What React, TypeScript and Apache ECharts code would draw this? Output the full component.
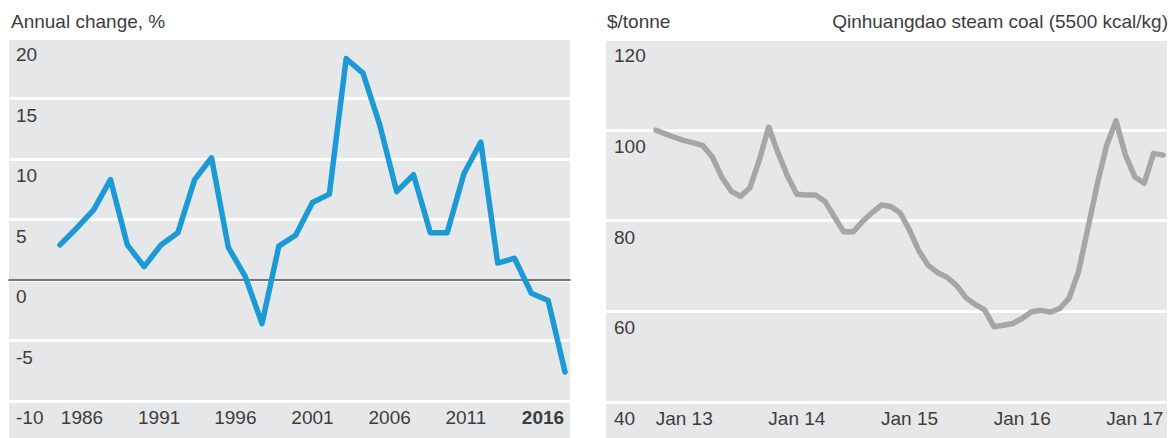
import React, { useEffect, useRef } from "react";
import * as echarts from "echarts";

// ---- Left chart: annual change, % ----
const growthYears: string[] = [];
for (let y = 1986; y <= 2016; y++) growthYears.push(String(y));
const growthValues = [
  2.9, 4.3, 5.8, 8.3, 2.9, 1.1, 2.9, 3.9, 8.3, 10.1,
  2.7, 0.3, -3.6, 2.8, 3.7, 6.4, 7.1, 18.3, 17.1, 12.8,
  7.3, 8.7, 3.9, 3.9, 8.8, 11.4, 1.4, 1.8, -1.1, -1.7,
  -7.6,
];
const growthMin = -10;
const growthMax = 20;
const growthStep = 5;

// ---- Right chart: Qinhuangdao steam coal, $/tonne ----
const monthNames = ["Jan", "Feb", "Mar", "Apr", "May", "Jun", "Jul", "Aug", "Sep", "Oct", "Nov", "Dec"];
const priceMonths: string[] = [];
{
  let m = 9, yr = 12; // Oct 12
  for (let i = 0; i < 55; i++) {
    priceMonths.push(`${monthNames[m]} ${yr}`);
    m++;
    if (m === 12) { m = 0; yr++; }
  }
}
const priceValues = [
  99.9, 99.1, 98.3, 97.6, 97.1, 96.5, 94.0, 89.6, 86.5, 85.3,
  87.2, 93.3, 100.6, 94.9, 89.8, 85.8, 85.6, 85.6, 84.2, 80.8,
  77.5, 77.5, 79.8, 81.7, 83.4, 83.1, 81.7, 77.9, 73.3, 70.1,
  68.5, 67.5, 65.7, 63.0, 61.5, 60.3, 56.6, 56.9, 57.3, 58.4,
  59.9, 60.2, 59.8, 60.6, 62.9, 68.7, 78.3, 88.0, 96.6, 102.0,
  94.4, 89.6, 88.2, 94.8, 94.4,
];
const priceMin = 40;
const priceMax = 120;
const priceStep = 20;

const FONT = "'Liberation Sans', Arial, sans-serif";
const TEXT = "#3d3d3d";
const PANEL = "#e6e7e8";
const FS = 19;

// horizontal nudges of the left x labels (reference places them on their own spacing)
const leftLabelShift = [22, 15, 7, 0, -7, -15, -22];
const leftRich: Record<string, any> = {};
leftLabelShift.forEach((d, k) => {
  leftRich["o" + k] = {
    fontSize: FS,
    lineHeight: FS,
    color: TEXT,
    fontFamily: FONT,
    fontWeight: k === leftLabelShift.length - 1 ? "bold" : "normal",
    padding: d >= 0 ? [0, 0, 0, 2 * d] : [0, -2 * d, 0, 0],
  };
});

function frameY(min: number, max: number, step: number, margin: number, gridIndex: number) {
  return {
    type: "value",
    gridIndex,
    min,
    max,
    interval: step,
    axisLine: { show: false },
    axisTick: { show: false },
    splitLine: { show: true, lineStyle: { color: "#ffffff", width: 3 } },
    axisLabel: {
      inside: true,
      margin,
      align: "left",
      verticalAlign: "top",
      padding: [7, 0, 0, 0],
      fontSize: FS,
      lineHeight: FS,
      color: TEXT,
      fontFamily: FONT,
    },
  };
}

const option: any = {
  animation: false,
  backgroundColor: "#ffffff",
  textStyle: { fontFamily: FONT },
  title: [
    { text: "Annual change, %", left: 11, top: 12, padding: 0, textStyle: { fontSize: FS, fontWeight: "normal", color: TEXT, fontFamily: FONT, lineHeight: FS } },
    { text: "$/tonne", left: 607, top: 12, padding: 0, textStyle: { fontSize: FS, fontWeight: "normal", color: TEXT, fontFamily: FONT, lineHeight: FS } },
    { text: "Qinhuangdao steam coal (5500 kcal/kg)", right: 6, top: 12, padding: 0, textStyle: { fontSize: FS, fontWeight: "normal", color: TEXT, fontFamily: FONT, lineHeight: FS } },
  ],
  graphic: [
    { type: "rect", z: -10, shape: { x: 9, y: 38, width: 561, height: 400 }, style: { fill: PANEL } },
    { type: "rect", z: -10, shape: { x: 606, y: 39, width: 561, height: 399 }, style: { fill: PANEL } },
  ],
  grid: [
    { left: 9, right: 604, top: 38, bottom: 37 },
    { left: 60, right: 609, top: 38, bottom: 37 },
    { left: 606, right: 7, top: 39, bottom: 36 },
    { left: 656, right: 11, top: 39, bottom: 36 },
  ],
  xAxis: [
    {
      type: "value", gridIndex: 0, min: 0, max: 1,
      axisLine: { show: true, onZero: true, lineStyle: { color: "#4a4a4a", width: 1.5 } },
      axisTick: { show: false }, axisLabel: { show: false }, splitLine: { show: false },
    },
    {
      type: "category", gridIndex: 1, data: growthYears, boundaryGap: false,
      axisLine: { show: false, onZero: false }, axisTick: { show: false }, splitLine: { show: false },
      axisLabel: {
        interval: 4,
        margin: 7,
        fontSize: FS,
        lineHeight: FS,
        color: TEXT,
        fontFamily: FONT,
        formatter: (value: string, index: number) => `{o${Math.round(index / 5)}|${value}}`,
        rich: leftRich,
      },
    },
    {
      type: "value", gridIndex: 2, min: 0, max: 1, show: false,
    },
    {
      type: "category", gridIndex: 3, data: priceMonths, boundaryGap: false,
      axisLine: { show: false, onZero: false }, axisTick: { show: false }, splitLine: { show: false },
      axisLabel: {
        interval: (_i: number, v: string) => v.startsWith("Jan"),
        margin: 7,
        fontSize: FS,
        lineHeight: FS,
        color: TEXT,
        fontFamily: FONT,
      },
    },
  ],
  yAxis: [
    frameY(growthMin, growthMax, growthStep, 7, 0),
    { type: "value", gridIndex: 1, min: growthMin, max: growthMax, interval: growthStep, show: false, splitLine: { show: false } },
    frameY(priceMin, priceMax, priceStep, 8, 2),
    { type: "value", gridIndex: 3, min: priceMin, max: priceMax, interval: priceStep, show: false, splitLine: { show: false } },
  ],
  series: [
    {
      type: "line", xAxisIndex: 1, yAxisIndex: 1, data: growthValues,
      showSymbol: false, smooth: false, z: 5,
      lineStyle: { color: "#1b9ad6", width: 5.5, cap: "round", join: "round" },
    },
    {
      type: "line", xAxisIndex: 3, yAxisIndex: 3, data: priceValues,
      showSymbol: false, smooth: false, z: 5,
      lineStyle: { color: "#a6a6a6", width: 5.5, cap: "round", join: "round" },
    },
  ],
};

export default function App() {
  const ref = useRef<HTMLDivElement>(null);
  useEffect(() => {
    document.body.style.margin = "0";
    const chart = echarts.init(ref.current!, undefined, { renderer: "svg" });
    chart.setOption(option);
    return () => chart.dispose();
  }, []);
  return <div ref={ref} style={{ width: 1174, height: 438 }} />;
}
